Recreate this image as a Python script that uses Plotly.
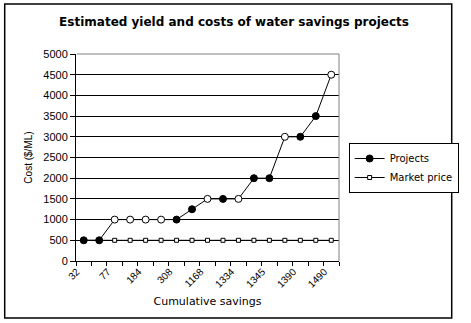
import plotly.graph_objects as go

# Data
tick_labels = ["32", "77", "184", "308", "1168", "1334", "1345", "1390", "1490"]
category_index = list(range(17))
label_index = [0, 2, 4, 6, 8, 10, 12, 14, 16]
projects = [500, 500, 1000, 1000, 1000, 1000, 1000, 1250, 1500, 1500, 1500, 2000, 2000, 3000, 3000, 3500, 4500]
market_price = [500] * 17
project_filled = [True, True, False, False, False, False, True, True, False, True, False, True, True, False, True, True, False]

W, H = 471, 323
L, R, T, B = 76, 349, 54, 261
pw, ph = R - L, B - T

fig = go.Figure()
fig.add_trace(go.Scatter(
    x=category_index, y=market_price, name="Market price", mode="lines+markers",
    line=dict(color="black", width=1),
    marker=dict(symbol="square", size=4, color="white", line=dict(color="black", width=1)),
))
fig.add_trace(go.Scatter(
    x=category_index, y=projects, name="Projects", mode="lines+markers",
    line=dict(color="black", width=1),
    marker=dict(symbol="circle", size=7,
                color=["black" if f else "white" for f in project_filled],
                line=dict(color="black", width=1)),
))

font = "Arial, Liberation Sans, sans-serif"
wide = "DejaVu Sans, Verdana, sans-serif"
fig.update_layout(
    width=W, height=H,
    margin=dict(l=L, r=W - R, t=T, b=H - B, pad=0),
    paper_bgcolor="white", plot_bgcolor="white",
    font=dict(family=font, color="black", size=11),
    title=dict(text="<b>Estimated yield and costs of water savings projects</b>",
               x=234 / W, xanchor="center", y=1 - 22 / H, yanchor="middle",
               font=dict(size=12, family=wide)),
    showlegend=True,
    legend=dict(x=(359 - L) / pw, y=(B - 143) / ph, xanchor="left", yanchor="top",
                bordercolor="black", borderwidth=1, bgcolor="white",
                font=dict(size=10, family=wide), traceorder="reversed", itemwidth=30,
                tracegroupgap=0),
    xaxis=dict(
        range=[-0.5, 16.5], tickmode="array", tickvals=[i - 0.45 for i in label_index],
        ticktext=tick_labels,
        tickangle=-45, ticks="", showgrid=False, showline=True, linecolor="black",
        linewidth=1, tickfont=dict(size=10), zeroline=False,
        minor=dict(tickmode="array", tickvals=[i - 0.5 for i in range(18)],
                   ticks="outside", ticklen=4, tickcolor="black", showgrid=False),
        title=dict(text="Cumulative savings", font=dict(size=11, family=wide), standoff=8),
    ),
    yaxis=dict(
        range=[0, 5000], tickmode="array", tickvals=list(range(0, 5001, 500)),
        ticks="outside", ticklen=5, tickcolor="black", showgrid=True, gridcolor="black",
        gridwidth=1, showline=True, linecolor="black", linewidth=1, zeroline=False,
        tickfont=dict(size=11),
        title=dict(text="Cost ($/ML)", font=dict(size=10), standoff=8),
    ),
    shapes=[
        dict(type="path", xref="paper", yref="paper", path="M 0.004,1 L 1,1 L 1,0",
             line=dict(color="#808080", width=1), layer="above"),
        dict(type="rect", xref="paper", yref="paper",
             x0=(2 - L) / pw, x1=(466 - L) / pw, y0=(B - 318) / ph, y1=(B - 4) / ph,
             line=dict(color="black", width=1.5)),
    ],
)
fig.write_html("out.html")
